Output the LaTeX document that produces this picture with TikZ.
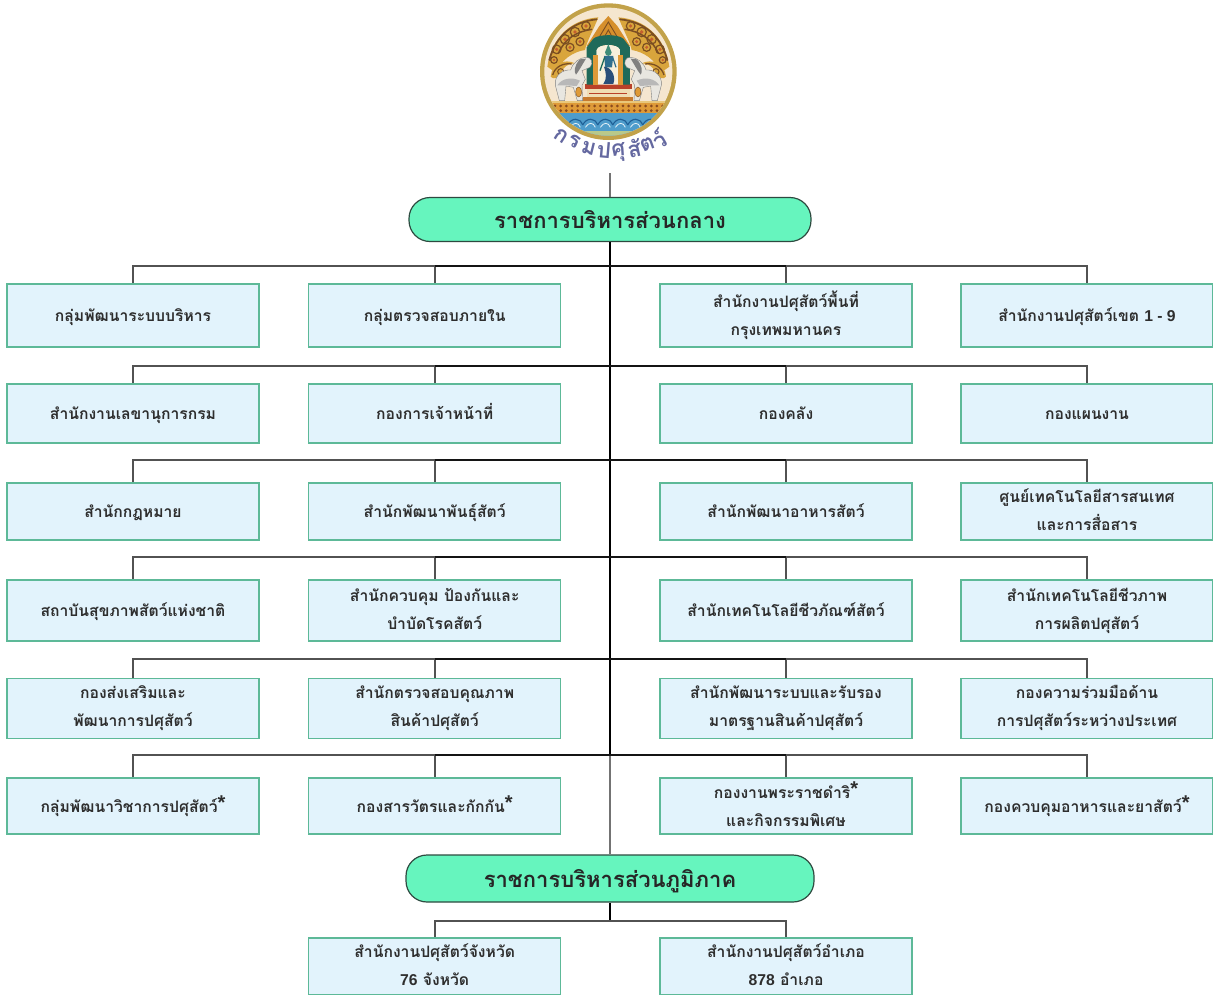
\documentclass[tikz,border=0pt]{standalone}
\usepackage{fontspec}
\newfontfamily\latinf{Liberation Sans}
\setmainfont[Script=Thai]{Loma}
\definecolor{boxfill}{HTML}{E2F3FC}
\definecolor{boxline}{HTML}{5DB998}
\definecolor{pillfill}{HTML}{66F5BE}
\definecolor{pillline}{HTML}{2E4A40}
\definecolor{gold}{HTML}{C2A24A}
\definecolor{cream}{HTML}{F5E6CF}
\definecolor{kanok}{HTML}{D9A53C}
\definecolor{kanokd}{HTML}{7B4E22}
\definecolor{teal}{HTML}{1F6A5A}
\definecolor{logotext}{HTML}{6468A0}
\definecolor{water}{HTML}{4E9CCB}
\definecolor{wave}{HTML}{1F5F96}
\definecolor{shore}{HTML}{B9C98A}
\definecolor{band}{HTML}{DE9A38}
\definecolor{bandd}{HTML}{8A4A1E}
\definecolor{bandl}{HTML}{E9C77A}
\definecolor{plat}{HTML}{B9412A}
\definecolor{platl}{HTML}{EFDDB4}
\definecolor{platd}{HTML}{C77A2E}
\definecolor{spire}{HTML}{D68F2C}
\definecolor{niche}{HTML}{F7F0DC}
\definecolor{deity}{HTML}{3E8C78}
\definecolor{deityb}{HTML}{2F6E8E}
\definecolor{deityc}{HTML}{2A4F7A}
\definecolor{horse}{HTML}{E8E6E0}
\newcommand{\st}{\raisebox{2.5pt}{\latinf\bfseries\fontsize{20}{20}\selectfont *}}
\newcommand{\nm}[1]{{\latinf #1}}
\newcommand{\ls}{\rule[-4pt]{0pt}{20pt}}
\tikzset{
  x=1pt,y=-1pt,
  box/.style={draw=boxline,line width=1.3pt,fill=boxfill,minimum width=252pt,inner sep=0pt,align=center,
    text=black!82,font=\bfseries\fontsize{15.7}{28}\selectfont,
    execute at begin node={\ls},execute at end node={\ls}},
  pill/.style={draw=pillline,line width=1.2pt,fill=pillfill,rounded corners=21pt,inner sep=0pt,
    text=black!85,font=\bfseries\fontsize{22}{26}\selectfont,
    execute at begin node={\rule[-6pt]{0pt}{30pt}}},
  conn/.style={draw=black!68,line width=1.8pt},
  spine/.style={draw=black,line width=2.8pt},
  spinethin/.style={draw=black!55,line width=1.6pt},
  busdark/.style={draw=black!92,line width=2.4pt},
  lchar/.style={text=logotext,inner sep=0pt,font=\bfseries\fontsize{22}{22}\selectfont},
}
\begin{document}
\begin{tikzpicture}
\useasboundingbox (0,0) rectangle (1213,994);
\fill[white] (0,0) rectangle (1213,994);

% --- emblem (drawn in zoomed units)
\begin{scope}[shift={(530,10)},x=0.3333pt,y=-0.3333pt]
  \fill[gold] (235,185) circle [radius=205*0.3333pt];
  \fill[cream] (235,185) circle [radius=192*0.3333pt];
  \begin{scope}
    \clip (235,185) circle [radius=192*0.3333pt];
    % water
    \fill[water] (0,305) rectangle (470,400);
    \foreach \i in {0,...,7}{
      \draw[wave,line width=1.1pt] (68+\i*45,345) .. controls (80+\i*45,322) and (105+\i*45,322) .. (113+\i*45,345);
      \draw[white!85!water,line width=.8pt] (76+\i*45,352) .. controls (86+\i*45,336) and (100+\i*45,336) .. (106+\i*45,352);
    }
    \fill[shore] (0,364) rectangle (470,400);
    % base bands
    \fill[band] (40,280) rectangle (430,310);
    \foreach \i in {0,...,21}{ \fill[bandd] (58+\i*17,288) circle [radius=1.5pt]; \fill[bandd] (58+\i*17,302) circle [radius=1.5pt]; }
    \fill[bandl] (40,272) rectangle (430,280);
    % kanok left and right
    \foreach \sx/\tx in {1/0,-1/470}{
      \begin{scope}[shift={(\tx,0)},xscale=\sx]
        \fill[kanok] (52,170) .. controls (65,80) and (125,28) .. (205,22)
            .. controls (190,60) and (170,95) .. (165,120)
            .. controls (130,125) and (90,150) .. (80,190) -- cycle;
        \draw[kanokd,line width=1.8pt,line cap=round] (58,150) .. controls (78,75) and (130,35) .. (200,28);
        \draw[kanokd,line width=1.5pt,line cap=round] (85,130) .. controls (105,85) and (140,65) .. (185,58);
        \foreach \cx/\cy/\cr in {80/118/13,105/88/14,135/66/14,168/48/13,120/112/12,150/95/12,72/150/10}{
          \draw[kanokd,line width=1.2pt] (\cx,\cy) circle [radius=\cr*0.3333pt];
          \fill[plat!70!kanok] (\cx,\cy) circle [radius=\cr*0.14pt];
        }
        \fill[kanok] (62,200) .. controls (65,160) and (105,145) .. (135,160) .. controls (115,160) and (100,170) .. (92,190) .. controls (85,205) and (70,210) .. (62,200) -- cycle;
        \draw[kanokd,line width=1.3pt] (68,195) .. controls (75,170) and (100,158) .. (125,162);
        \draw[kanokd,line width=1pt] (92,185) circle [radius=3pt];
      \end{scope}
    }
    % platform
    \fill[plat] (165,222) rectangle (305,238);
    \fill[platl] (170,238) rectangle (300,262);
    \draw[plat,line width=.9pt] (178,250) -- (292,250);
    \fill[platd] (160,262) rectangle (310,272);
    % spire and arch
    \fill[spire] (235,18) -- (262,48) -- (300,108) -- (170,108) -- (208,48) -- cycle;
    \draw[kanokd,line width=.9pt] (235,36) -- (272,98) -- (198,98) -- cycle;
    \draw[kanokd,line width=.9pt] (235,60) -- (256,98) -- (214,98) -- cycle;
    \fill[teal] (170,224) -- (170,112) -- (190,86) .. controls (205,72) and (265,72) .. (280,86) -- (300,112) -- (300,224) -- (270,224) -- (270,120) .. controls (265,100) and (205,100) .. (200,120) -- (200,224) -- cycle;
    \fill[niche] (200,224) -- (200,120) .. controls (205,100) and (265,100) .. (270,120) -- (270,224) -- cycle;
    \fill[band] (190,224) rectangle (205,135);
    \fill[band] (265,224) rectangle (280,135);
    % deity
    \fill[deity] (235,102) -- (245,128) -- (225,128) -- cycle;
    \fill[deity] (235,128) circle [radius=3.2pt];
    \fill[deityb] (222,138) -- (250,138) -- (246,172) -- (226,172) -- cycle;
    \fill[deityc] (222,170) .. controls (245,172) and (258,198) .. (250,222) -- (220,222) .. controls (232,205) and (228,188) .. (222,170) -- cycle;
    \draw[teal,line width=1.3pt] (224,142) -- (210,182);
    \draw[deityb,line width=1.2pt] (248,142) -- (258,172);
    % horses (mirror pair)
    \foreach \sx/\tx in {1/0,-1/470}{
      \begin{scope}[shift={(\tx,0)},xscale=\sx]
        \fill[horse,draw=black!50,line width=.4pt] (168,142) .. controls (184,140) and (192,160) .. (180,172)
           -- (156,182) -- (166,208) -- (156,226) -- (158,272) -- (142,272) -- (130,232) -- (108,228)
           -- (104,272) -- (88,272) -- (76,226) .. controls (72,195) and (100,178) .. (122,180)
           .. controls (128,158) and (150,142) .. (168,142) -- cycle;
        \fill[black!50] (150,148) .. controls (132,165) and (132,188) .. (138,194) .. controls (150,178) and (156,165) .. (168,146) -- cycle;
        \fill[black!28] (82,226) .. controls (95,205) and (125,200) .. (150,212) -- (140,228) -- (108,226) -- cycle;
        \fill[band,draw=kanokd,line width=.4pt] (146,246) ellipse [x radius=3pt,y radius=5pt];
      \end{scope}
    }
  \end{scope}
  % emblem name on its arc
  \node[lchar,rotate=-32] (lg1) at (94,378) {ก};
  \node[lchar,rotate=-24] (lg2) at (134,394) {ร};
  \node[lchar,rotate=-14] (lg3) at (176,414) {ม};
  \node[lchar,rotate=-5]  (lg4) at (222,422) {ป};
  \node[lchar,rotate=4]   (lg5) at (266,426) {ศุ};
  \node[lchar,rotate=12]  (lg6) at (312,414) {สั};
  \node[lchar,rotate=20]  (lg7) at (352,404) {ต};
  \node[lchar,rotate=30]  (lg8) at (388,386) {ว์};
\end{scope}

\coordinate (top) at (610,173);
\coordinate (b1) at (610,266);
\coordinate (b2) at (610,366);
\coordinate (b3) at (610,460);
\coordinate (b4) at (610,557);
\coordinate (b5) at (610,659);
\coordinate (b6) at (610,755);
\coordinate (b7) at (610,921);

% --- nodes
\node[pill,minimum width=402pt,minimum height=44pt] (central) at (610,219.5) {ราชการบริหารส่วนกลาง};
\node[pill,minimum width=408pt,minimum height=47pt] (region) at (610,878.5) {ราชการบริหารส่วนภูมิภาค};

\node[box,minimum height=63pt] (a1) at (133,315.5) {กลุ่มพัฒนาระบบบริหาร};
\node[box,minimum height=63pt] (a2) at (434.7,315.5) {กลุ่มตรวจสอบภายใน};
\node[box,minimum height=63pt] (a3) at (786,315.5) {สำนักงานปศุสัตว์พื้นที่\\กรุงเทพมหานคร};
\node[box,minimum height=63pt] (a4) at (1087,315.5) {สำนักงานปศุสัตว์เขต \nm{1 - 9}};

\node[box,minimum height=59pt] (c1) at (133,413.5) {สำนักงานเลขานุการกรม};
\node[box,minimum height=59pt] (c2) at (434.7,413.5) {กองการเจ้าหน้าที่};
\node[box,minimum height=59pt] (c3) at (786,413.5) {กองคลัง};
\node[box,minimum height=59pt] (c4) at (1087,413.5) {กองแผนงาน};

\node[box,minimum height=57pt] (d1) at (133,511.5) {สำนักกฎหมาย};
\node[box,minimum height=57pt] (d2) at (434.7,511.5) {สำนักพัฒนาพันธุ์สัตว์};
\node[box,minimum height=57pt] (d3) at (786,511.5) {สำนักพัฒนาอาหารสัตว์};
\node[box,minimum height=57pt] (d4) at (1087,511.5) {ศูนย์เทคโนโลยีสารสนเทศ\\และการสื่อสาร};

\node[box,minimum height=61pt] (e1) at (133,610.5) {สถาบันสุขภาพสัตว์แห่งชาติ};
\node[box,minimum height=61pt] (e2) at (434.7,610.5) {สำนักควบคุม ป้องกันและ\\บำบัดโรคสัตว์};
\node[box,minimum height=61pt] (e3) at (786,610.5) {สำนักเทคโนโลยีชีวภัณฑ์สัตว์};
\node[box,minimum height=61pt] (e4) at (1087,610.5) {สำนักเทคโนโลยีชีวภาพ\\การผลิตปศุสัตว์};

\node[box,minimum height=59.6pt] (f1) at (133,708.4) {กองส่งเสริมและ\\พัฒนาการปศุสัตว์};
\node[box,minimum height=59.6pt] (f2) at (434.7,708.4) {สำนักตรวจสอบคุณภาพ\\สินค้าปศุสัตว์};
\node[box,minimum height=59.6pt] (f3) at (786,708.4) {สำนักพัฒนาระบบและรับรอง\\มาตรฐานสินค้าปศุสัตว์};
\node[box,minimum height=59.6pt] (f4) at (1087,708.4) {กองความร่วมมือด้าน\\การปศุสัตว์ระหว่างประเทศ};

\node[box,minimum height=56pt] (g1) at (133,806) {กลุ่มพัฒนาวิชาการปศุสัตว์\st};
\node[box,minimum height=56pt] (g2) at (434.7,806) {กองสารวัตรและกักกัน\st};
\node[box,minimum height=56pt] (g3) at (786,806) {กองงานพระราชดำริ\st\\และกิจกรรมพิเศษ};
\node[box,minimum height=56pt] (g4) at (1087,806) {กองควบคุมอาหารและยาสัตว์\st};

\node[box,minimum height=57pt] (h1) at (434.7,966.5) {สำนักงานปศุสัตว์จังหวัด\\\nm{76} จังหวัด};
\node[box,minimum height=57pt] (h2) at (786,966.5) {สำนักงานปศุสัตว์อำเภอ\\\nm{878} อำเภอ};

% --- connectors
\draw[spinethin] (top) -- (central.north);
\draw[spine] (central.south) -- (b6);
\draw[spinethin] (b6) -- (region.north);
\draw[spine] (region.south) -- (b7);
\foreach \b/\r in {b1/a,b2/c,b3/d,b4/e,b5/f,b6/g}{
  \draw[conn] (\b) -| (\r1.north);
  \draw[conn] (\b) -| (\r2.north);
  \draw[conn] (\b) -| (\r3.north);
  \draw[conn] (\b) -| (\r4.north);
  \draw[busdark] (\r2.north |- \b) -- (\r3.north |- \b);
}
\draw[conn] (b7) -| (h1.north);
\draw[conn] (b7) -| (h2.north);
\end{tikzpicture}
\end{document}
